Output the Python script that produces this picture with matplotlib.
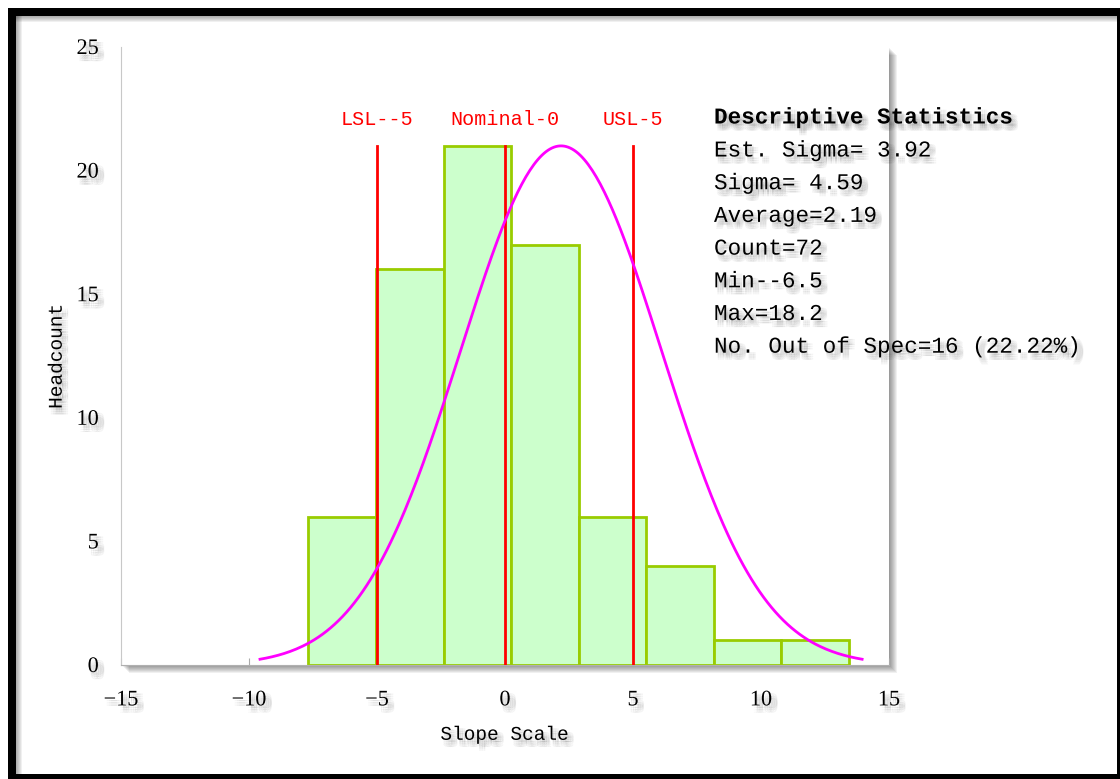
import numpy as np
import matplotlib
matplotlib.use("Agg")
import matplotlib.pyplot as plt
import matplotlib.patheffects as pe
from matplotlib.patches import Rectangle

# histogram data
counts = [6, 16, 21, 17, 6, 4, 1, 1]
bin_start = -7.68
bin_width = 2.64

# spec limits
spec_values = [-5, 0, 5]
spec_labels = ["LSL--5", "Nominal-0", "USL-5"]

# descriptive statistics
mean = 2.19
est_sigma = 3.92
stats_title = "Descriptive Statistics"
stats_lines = [
    "Est. Sigma= 3.92",
    "Sigma= 4.59",
    "Average=2.19",
    "Count=72",
    "Min--6.5",
    "Max=18.2",
    "No. Out of Spec=16 (22.22%)",
]

x_ticks = [-15, -10, -5, 0, 5, 10, 15]
y_ticks = [0, 5, 10, 15, 20, 25]

W, H = 1120, 779


def soft_shadow(dx=3, dy=-3.5, spread=1.6, alpha=0.045):
    # poor man's blurred drop shadow
    effects = []
    for i in (-1, 0, 1):
        for j in (-1, 0, 1):
            effects.append(pe.SimplePatchShadow(offset=(dx + i * spread, dy + j * spread),
                                                shadow_rgbFace="black", alpha=alpha))
    effects.append(pe.Normal())
    return effects


def fig_rect(x0, y0, x1, y1, **kw):
    # pixel box (top-left origin) -> figure fraction rectangle
    return Rectangle((x0 / W, 1 - y1 / H), (x1 - x0) / W, (y1 - y0) / H,
                     transform=fig.transFigure, **kw)


fig = plt.figure(figsize=(W / 100, H / 100), dpi=100)
fig.patch.set_facecolor("white")

ax_l, ax_r, ax_t, ax_b = 121, 889, 47, 665
ax = fig.add_axes([ax_l / W, 1 - ax_b / H, (ax_r - ax_l) / W, (ax_b - ax_t) / H])

# drop shadow behind plot area
for k in range(1, 9):
    fig.patches.append(fig_rect(ax_l + k, ax_t + k, ax_r + k, ax_b + k,
                                facecolor="black", edgecolor="none", alpha=0.06, zorder=-1))

# outer black frame with a bit of shadow
for k in range(1, 7):
    fig.patches.append(fig_rect(8, 16, W, 16 + k, facecolor="black", edgecolor="none", alpha=0.06, zorder=-2))
    fig.patches.append(fig_rect(16, 8, 16 + k, H, facecolor="black", edgecolor="none", alpha=0.06, zorder=-2))
fig.patches.append(fig_rect(8, 8, W, 16, facecolor="black", edgecolor="none", zorder=5))
fig.patches.append(fig_rect(8, 8, 16, H, facecolor="black", edgecolor="none", zorder=5))
fig.patches.append(fig_rect(8, 774, W, H, facecolor="black", edgecolor="none", zorder=5))
fig.patches.append(fig_rect(1117, 8, W, H, facecolor="black", edgecolor="none", zorder=5))

# histogram
edges = bin_start + bin_width * np.arange(len(counts) + 1)
ax.bar(edges[:-1], counts, width=bin_width, align="edge",
       facecolor="#ccffcc", edgecolor="#99cc00", linewidth=2, zorder=2)

# spec limit lines
for val, lab in zip(spec_values, spec_labels):
    ax.plot([val, val], [0, max(counts)], color="#ff0000", linewidth=2, zorder=3)
    ax.text(val, max(counts) + 1.05, lab, color="#ff0000", ha="center", va="center",
            fontsize=14.5, family="Liberation Mono")

# fitted normal curve, scaled so its peak equals the tallest bar, +/- 3 sigma
xs = np.linspace(mean - 3 * est_sigma, mean + 3 * est_sigma, 300)
ys = max(counts) * np.exp(-0.5 * ((xs - mean) / est_sigma) ** 2)
ax.plot(xs, ys, color="#ff00ff", linewidth=2, zorder=4)

ax.set_xlim(-15, 15)
ax.set_ylim(0, 25)
ax.set_xticks(x_ticks)
ax.set_yticks(y_ticks)
ax.set_xticklabels([str(t).replace("-", "\u2212") for t in x_ticks])
ax.tick_params(axis="x", direction="in", length=5, color="#aaaaaa", pad=19, labelsize=16)
ax.tick_params(axis="y", length=0, pad=16, labelsize=16)
for lbl in ax.get_xticklabels() + ax.get_yticklabels():
    lbl.set_fontfamily("Liberation Serif")
    lbl.set_path_effects(soft_shadow())

for side in ("top", "right"):
    ax.spines[side].set_visible(False)
ax.spines["left"].set_color("#c8c8c8")
ax.spines["bottom"].set_color("#b0b0b0")

ax.set_xlabel("Slope Scale", fontsize=14, family="Liberation Mono",
              path_effects=soft_shadow())
ax.set_ylabel("Headcount", fontsize=14, family="Liberation Mono",
              path_effects=soft_shadow())
ax.xaxis.set_label_coords(0.5, -0.100)
ax.yaxis.set_label_coords(-0.072, 0.5)

# statistics block
line_gap = 32.7
stat_x = 714 / W
fig.text(stat_x, 1 - 117 / H, stats_title, fontsize=16.3, family="Liberation Mono",
         fontweight="bold", va="center", ha="left", path_effects=soft_shadow())
for i, line in enumerate(stats_lines):
    fig.text(stat_x, 1 - (150 + i * line_gap) / H, line, fontsize=16.3,
             family="Liberation Mono", va="center", ha="left",
             path_effects=soft_shadow())

fig.savefig("out.png", dpi=100)
